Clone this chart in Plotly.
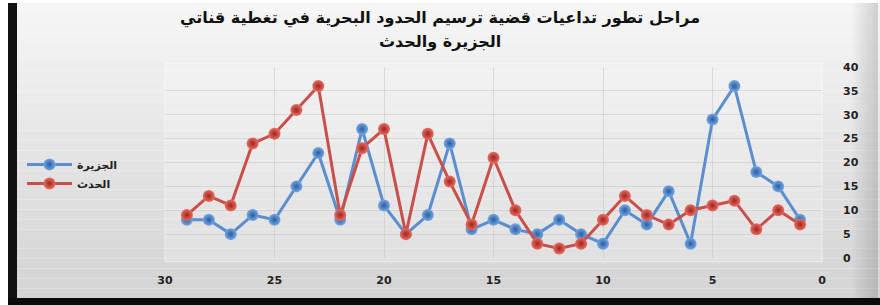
import plotly.graph_objects as go

# ---- data ----
days = [29, 28, 27, 26, 25, 24, 23, 22, 21, 20, 19, 18, 17, 16, 15,
        14, 13, 12, 11, 10, 9, 8, 7, 6, 5, 4, 3, 2, 1]
jazeera = [8, 8, 5, 9, 8, 15, 22, 8, 27, 11, 5, 9, 24, 6, 8,
           6, 5, 8, 5, 3, 10, 7, 14, 3, 29, 36, 18, 15, 8]
hadath = [9, 13, 11, 24, 26, 31, 36, 9, 23, 27, 5, 26, 16, 7, 21,
          10, 3, 2, 3, 8, 13, 9, 7, 10, 11, 12, 6, 10, 7]
series_names = ["الجزيرة", "الحدث"]
title_lines = ["مراحل تطور تداعيات قضية ترسيم الحدود البحرية في تغطية قناتي",
               "الجزيرة والحدث"]
x_ticks = [30, 25, 20, 15, 10, 5, 0]
y_ticks = [0, 5, 10, 15, 20, 25, 30, 35, 40]

W, H = 880, 305
L, R, T, B = 165, 822, 67, 258  # plot area in px


def px_x(px):
    return (px - L) / (R - L)


def px_y(py):
    return (B - py) / (B - T)


fig = go.Figure()

fig.add_trace(go.Scatter(
    x=days, y=jazeera, name=series_names[0], mode="lines+markers",
    line=dict(color="#5b8ecf", width=3),
    marker=dict(size=12, color="#75a8e4",
                gradient=dict(type="radial", color="#2c5d9f"),
                line=dict(width=0)),
))
fig.add_trace(go.Scatter(
    x=days, y=hadath, name=series_names[1], mode="lines+markers",
    line=dict(color="#c9504a", width=3),
    marker=dict(size=12, color="#ec6c62",
                gradient=dict(type="radial", color="#9a2720"),
                line=dict(width=0)),
))

shapes = []
# background gradient bands
top_c = (246, 246, 246)
bot_c = (212, 212, 212)
n = 30
y0px, y1px = 3, 298
for i in range(n):
    a = y0px + (y1px - y0px) * i / n
    b = y0px + (y1px - y0px) * (i + 1) / n
    t = i / (n - 1)
    c = tuple(int(top_c[k] + (bot_c[k] - top_c[k]) * t) for k in range(3))
    shapes.append(dict(type="rect", xref="paper", yref="paper",
                       x0=px_x(17), x1=px_x(880), y0=px_y(b), y1=px_y(a),
                       fillcolor="rgb(%d,%d,%d)" % c, line=dict(width=0),
                       layer="below"))
# right side darkening
m = 12
for i in range(m):
    a = 852 + 26 * i / m
    b = 852 + 26 * (i + 1) / m
    alpha = 0.02 + 0.22 * i / (m - 1)
    shapes.append(dict(type="rect", xref="paper", yref="paper",
                       x0=px_x(a), x1=px_x(b), y0=px_y(298), y1=px_y(3),
                       fillcolor="rgba(90,90,90,%.3f)" % alpha,
                       line=dict(width=0), layer="below"))
# black frame parts
shapes.append(dict(type="rect", xref="paper", yref="paper",
                   x0=px_x(8), x1=px_x(17), y0=px_y(305), y1=px_y(3),
                   fillcolor="#111111", line=dict(width=0), layer="below"))
shapes.append(dict(type="rect", xref="paper", yref="paper",
                   x0=px_x(8), x1=px_x(880), y0=px_y(305), y1=px_y(298),
                   fillcolor="#0a0a0a", line=dict(width=0), layer="below"))
# plot area light panel
shapes.append(dict(type="rect", xref="paper", yref="paper",
                   x0=0, x1=1, y0=-0.02, y1=1.02,
                   fillcolor="rgba(255,255,255,0.22)",
                   line=dict(width=1, color="rgba(255,255,255,0.5)"),
                   layer="below"))

annotations = []
for i, line in enumerate(title_lines):
    annotations.append(dict(
        text=line, xref="paper", yref="paper", x=px_x(440), y=px_y(18 + 24 * i),
        xanchor="center", yanchor="middle", showarrow=False,
        font=dict(family="DejaVu Sans", size=16, color="#111111",
                  weight="bold")))

fig.update_layout(
    width=W, height=H,
    margin=dict(l=L, r=W - R, t=T, b=H - B),
    paper_bgcolor="white",
    plot_bgcolor="rgba(0,0,0,0)",
    shapes=shapes,
    annotations=annotations,
    legend=dict(xref="container", yref="container", x=22 / W, y=1 - 150 / H,
                xanchor="left", yanchor="top", bgcolor="rgba(0,0,0,0)",
                itemwidth=45, tracegroupgap=2,
                font=dict(family="DejaVu Sans", size=11, color="#222222",
                          weight="bold")),
    showlegend=True,
    xaxis=dict(range=[30, 0], tickvals=x_ticks, showline=False, zeroline=False,
               showgrid=True, gridcolor="rgba(190,190,190,0.45)", gridwidth=1,
               ticks="", ticklabelstandoff=14,
               tickfont=dict(family="DejaVu Sans", size=11, color="#222222",
                             weight="bold")),
    yaxis=dict(range=[0, 40], tickvals=y_ticks, side="right", showline=False,
               zeroline=False, showgrid=True,
               gridcolor="rgba(190,190,190,0.45)", gridwidth=1,
               ticks="", ticklabelstandoff=20,
               tickfont=dict(family="DejaVu Sans", size=11, color="#222222",
                             weight="bold")),
)

fig.write_html("out.html", config={"displayModeBar": False},
               post_script="document.body.style.margin='0';")
